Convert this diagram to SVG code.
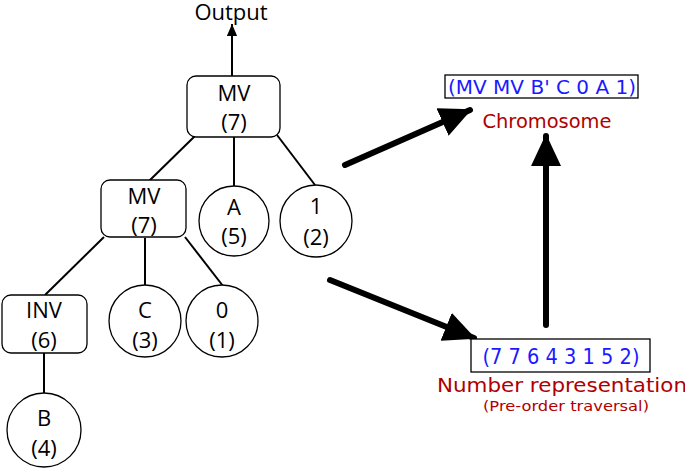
<svg xmlns="http://www.w3.org/2000/svg" width="685" height="468" viewBox="0 0 685 468">
<style>
.n{fill:#fff;stroke:#000;stroke-width:1.3}
.t{font-family:"Open Sans","Noto Sans",sans-serif;font-size:22px;fill:#000;text-anchor:middle}
.e{stroke:#000;stroke-width:2;fill:none}
.big{stroke:#000;stroke-width:6;stroke-linecap:round;fill:none}
.v{font-family:"DejaVu Sans",Verdana,sans-serif;text-anchor:middle}
</style>
<defs>
<marker id="ah" markerWidth="12" markerHeight="14" refX="14" refY="6" orient="auto" markerUnits="userSpaceOnUse" viewBox="0 0 14 12"><path d="M0,0 L14,6 L0,12 z" fill="#000"/></marker>
<marker id="bh" markerWidth="32" markerHeight="30" refX="30" refY="15" orient="auto" markerUnits="userSpaceOnUse" viewBox="0 0 32 30"><path d="M0,0 L32,15 L0,30 z" fill="#000"/></marker>
</defs>
<g id="connectors">
<line class="e" x1="232" y1="76" x2="232" y2="24" marker-end="url(#ah)"/>
<line class="e" x1="195" y1="136" x2="149" y2="181"/>
<line class="e" x1="234" y1="137" x2="234" y2="186"/>
<line class="e" x1="277" y1="135" x2="315" y2="185"/>
<line class="e" x1="104" y1="237" x2="45" y2="295"/>
<line class="e" x1="145" y1="238" x2="145" y2="286"/>
<line class="e" x1="185" y1="237" x2="223" y2="286"/>
<line class="e" x1="44" y1="353" x2="44" y2="393"/>
<line class="big" x1="345" y1="165" x2="470" y2="110" marker-end="url(#bh)"/>
<line class="big" x1="330" y1="280" x2="474" y2="338" marker-end="url(#bh)"/>
<line class="big" x1="546" y1="325" x2="546" y2="136" marker-end="url(#bh)"/>
</g>
<text class="t" x="231" y="20" font-size="21">Output</text>
<g id="root"><rect class="n" x="187" y="76" width="93" height="61" rx="9"/><text class="t" x="234" y="101">MV</text><text class="t" x="234" y="130">(7)</text></g>
<g id="mv2"><rect class="n" x="101" y="180" width="85" height="57" rx="9"/><text class="t" x="144" y="204">MV</text><text class="t" x="144" y="233">(7)</text></g>
<g id="a"><circle class="n" cx="234" cy="221" r="35"/><text class="t" x="234" y="215">A</text><text class="t" x="234" y="244">(5)</text></g>
<g id="one"><circle class="n" cx="316" cy="221" r="36"/><text class="t" x="316" y="214">1</text><text class="t" x="316" y="245">(2)</text></g>
<g id="inv"><rect class="n" x="2" y="295" width="85" height="58" rx="9"/><text class="t" x="44" y="318">INV</text><text class="t" x="44" y="348">(6)</text></g>
<g id="c"><circle class="n" cx="145" cy="321" r="36"/><text class="t" x="145" y="318">C</text><text class="t" x="145" y="348">(3)</text></g>
<g id="zero"><circle class="n" cx="222" cy="321" r="36"/><text class="t" x="222" y="318">0</text><text class="t" x="222" y="348">(1)</text></g>
<g id="b"><circle class="n" cx="44" cy="430" r="37"/><text class="t" x="44" y="426">B</text><text class="t" x="44" y="456">(4)</text></g>
<g id="chromosome">
<rect x="445" y="75" width="193" height="23" fill="#fff" stroke="#000" stroke-width="1.3"/>
<text class="v" x="542" y="94" font-size="20" fill="#1a1aff" textLength="188" lengthAdjust="spacingAndGlyphs">(MV MV B' C 0 A 1)</text>
<text class="v" x="547" y="128" font-size="20" fill="#b00000" textLength="129" lengthAdjust="spacingAndGlyphs">Chromosome</text>
</g>
<g id="number">
<rect x="471" y="339" width="179" height="33" fill="#fff" stroke="#000" stroke-width="1.3"/>
<text class="v" x="561" y="364" font-size="21" fill="#1a1aff" textLength="157" lengthAdjust="spacingAndGlyphs">(7 7 6 4 3 1 5 2)</text>
<text class="v" x="562" y="392" font-size="20" fill="#b00000" textLength="250" lengthAdjust="spacingAndGlyphs">Number  representation</text>
<text class="v" x="566" y="411" font-size="14" fill="#b00000" textLength="166" lengthAdjust="spacingAndGlyphs">(Pre-order traversal)</text>
</g>
</svg>
